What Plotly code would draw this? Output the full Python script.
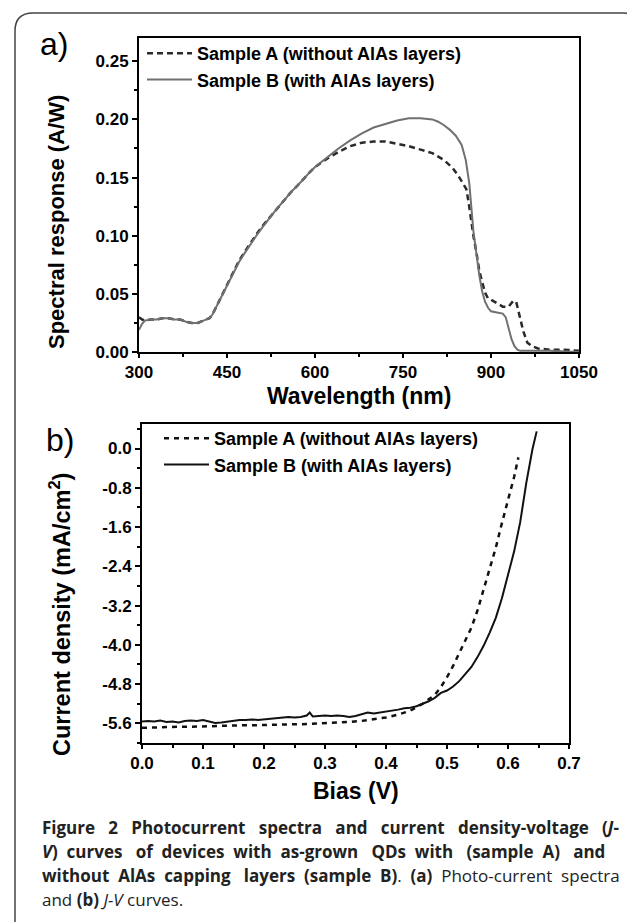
import plotly.graph_objects as go

# ---------------- data ----------------
# Panel a: spectral response (A/W) vs wavelength (nm)
wl_A = [300, 305, 310, 320, 330, 340, 350, 360, 370, 380, 390, 400, 410, 420, 425, 430, 440,
        450, 460, 470, 480, 490, 500, 510, 520, 530, 540, 550, 560, 570, 580, 590, 600,
        620, 640, 660, 680, 700, 720, 740, 760, 780, 800, 820, 835, 845, 852, 858, 862,
        866, 870, 875, 880, 885, 890, 895, 900, 910, 920, 930, 938, 943, 948, 955, 962,
        970, 980, 1000, 1025, 1050]
sr_A = [0.030, 0.028, 0.027, 0.028, 0.028, 0.029, 0.029, 0.028, 0.028, 0.026, 0.025, 0.025,
        0.027, 0.029, 0.032, 0.037, 0.048, 0.058, 0.068, 0.078, 0.086, 0.094, 0.101, 0.108,
        0.114, 0.120, 0.126, 0.132, 0.138, 0.143, 0.149, 0.154, 0.159, 0.166, 0.172, 0.177,
        0.180, 0.181, 0.181, 0.179, 0.177, 0.174, 0.171, 0.165, 0.158, 0.151, 0.145, 0.140,
        0.128, 0.113, 0.100, 0.086, 0.070, 0.060, 0.051, 0.046, 0.045, 0.042, 0.039, 0.039,
        0.044, 0.043, 0.033, 0.018, 0.008, 0.005, 0.003, 0.002, 0.002, 0.001]

wl_B = [300, 305, 310, 320, 330, 340, 350, 360, 370, 380, 390, 400, 410, 420, 425, 430, 440,
        450, 460, 470, 480, 490, 500, 510, 520, 530, 540, 550, 560, 570, 580, 590, 600,
        620, 640, 660, 680, 700, 720, 740, 760, 780, 800, 810, 820, 830, 840, 850, 857,
        863, 870, 875, 880, 885, 890, 895, 900, 910, 920, 925, 930, 935, 940, 945, 950,
        1000, 1050]
sr_B = [0.019, 0.024, 0.027, 0.028, 0.028, 0.029, 0.029, 0.028, 0.028, 0.026, 0.025, 0.025,
        0.027, 0.029, 0.032, 0.037, 0.048, 0.058, 0.068, 0.077, 0.085, 0.093, 0.100, 0.107,
        0.114, 0.120, 0.126, 0.132, 0.138, 0.143, 0.149, 0.154, 0.159, 0.167, 0.175, 0.182,
        0.188, 0.193, 0.196, 0.199, 0.201, 0.201, 0.200, 0.198, 0.195, 0.191, 0.186, 0.178,
        0.165, 0.145, 0.104, 0.085, 0.066, 0.052, 0.043, 0.038, 0.035, 0.034, 0.033, 0.030,
        0.020, 0.011, 0.005, 0.002, 0.001, 0.001, 0.000]

wl_ticks = [300, 450, 600, 750, 900, 1050]
wl_ticklabels = ["300", "450", "600", "750", "900", "1050"]
sr_ticks = [0.00, 0.05, 0.10, 0.15, 0.20, 0.25]
sr_ticklabels = ["0.00", "0.05", "0.10", "0.15", "0.20", "0.25"]

# Panel b: current density (mA/cm2) vs bias (V)
bias_A = [0.00, 0.02, 0.04, 0.06, 0.08, 0.10, 0.12, 0.14, 0.16, 0.18, 0.20, 0.22, 0.24, 0.26,
          0.28, 0.30, 0.32, 0.34, 0.36, 0.38, 0.40, 0.42, 0.44, 0.46, 0.48, 0.49, 0.50, 0.51,
          0.52, 0.53, 0.54, 0.55, 0.56, 0.57, 0.58, 0.59, 0.60, 0.61, 0.617]
jd_A = [-5.69, -5.68, -5.68, -5.67, -5.67, -5.66, -5.66, -5.65, -5.64, -5.64, -5.63, -5.63,
        -5.62, -5.62, -5.61, -5.60, -5.59, -5.57, -5.55, -5.52, -5.48, -5.42, -5.34, -5.20,
        -5.02, -4.86, -4.66, -4.43, -4.18, -3.92, -3.65, -3.30, -2.88, -2.46, -2.02, -1.52,
        -1.04, -0.58, -0.18]

bias_B = [0.00, 0.01, 0.02, 0.03, 0.04, 0.05, 0.06, 0.07, 0.08, 0.09, 0.10, 0.11, 0.12, 0.13,
          0.14, 0.15, 0.16, 0.17, 0.18, 0.19, 0.20, 0.21, 0.22, 0.23, 0.24, 0.25, 0.26, 0.27,
          0.275, 0.28, 0.29, 0.30, 0.31, 0.32, 0.33, 0.34, 0.35, 0.36, 0.37, 0.38, 0.39, 0.40,
          0.41, 0.42, 0.43, 0.44, 0.45, 0.46, 0.47, 0.48, 0.49, 0.50, 0.51, 0.52, 0.53, 0.54,
          0.55, 0.56, 0.57, 0.58, 0.59, 0.60, 0.61, 0.62, 0.63, 0.64, 0.647]
jd_B = [-5.56, -5.55, -5.56, -5.54, -5.57, -5.56, -5.58, -5.55, -5.54, -5.55, -5.53, -5.56,
        -5.59, -5.58, -5.56, -5.54, -5.53, -5.53, -5.52, -5.53, -5.52, -5.51, -5.50, -5.49,
        -5.47, -5.48, -5.47, -5.44, -5.38, -5.46, -5.45, -5.44, -5.45, -5.44, -5.45, -5.47,
        -5.45, -5.42, -5.38, -5.40, -5.38, -5.36, -5.35, -5.32, -5.29, -5.28, -5.25, -5.20,
        -5.15, -5.08, -4.98, -4.93, -4.85, -4.74, -4.60, -4.45, -4.25, -4.02, -3.75, -3.45,
        -3.05, -2.58, -2.10, -1.50, -0.70, -0.02, 0.35]

bias_ticks = [0.0, 0.1, 0.2, 0.3, 0.4, 0.5, 0.6, 0.7]
bias_ticklabels = ["0.0", "0.1", "0.2", "0.3", "0.4", "0.5", "0.6", "0.7"]
jd_ticks = [0.0, -0.8, -1.6, -2.4, -3.2, -4.0, -4.8, -5.6]
jd_ticklabels = ["0.0", "-0.8", "-1.6", "-2.4", "-3.2", "-4.0", "-4.8", "-5.6"]

name_A = "Sample A (without AlAs layers)"
name_B = "Sample B (with AlAs layers)"

# ---------------- layout helpers ----------------
W, H = 635, 922
OFF = 8  # page body margin of the html page
def px(x):
    return (x - OFF) / W
def py(y):
    return 1 - (y - OFF) / H

FONT = "Liberation Sans, Arial, sans-serif"

fig = go.Figure()
fig.add_trace(go.Scatter(x=wl_A, y=sr_A, mode="lines", name=name_A,
                         line=dict(color="#2a2a2a", width=2.5, dash="6px,4px"),
                         xaxis="x", yaxis="y", legend="legend"))
fig.add_trace(go.Scatter(x=wl_B, y=sr_B, mode="lines", name=name_B,
                         line=dict(color="#707070", width=2),
                         xaxis="x", yaxis="y", legend="legend"))
fig.add_trace(go.Scatter(x=bias_A, y=jd_A, mode="lines", name=name_A,
                         line=dict(color="#111111", width=2.5, dash="5px,5px"),
                         xaxis="x2", yaxis="y2", legend="legend2"))
fig.add_trace(go.Scatter(x=bias_B, y=jd_B, mode="lines", name=name_B,
                         line=dict(color="#111111", width=2),
                         xaxis="x2", yaxis="y2", legend="legend2"))

axis_common = dict(showline=True, linecolor="black", linewidth=2, mirror=True,
                   showgrid=False, zeroline=False, ticks="outside",
                   tickwidth=1.5, tickcolor="black", automargin=False,
                   tickfont=dict(family=FONT, size=17, color="black", weight="bold"))

legend_font = dict(family=FONT, size=18, color="black", weight="bold")

fig.update_layout(
    width=W, height=H, autosize=False, margin=dict(l=0, r=0, t=0, b=0, autoexpand=False),
    paper_bgcolor="white", plot_bgcolor="white",
    font=dict(family=FONT, color="black"),
    xaxis=dict(domain=[px(139), px(579)], anchor="y", range=[300, 1050], ticklen=4,
               tickmode="array", tickvals=wl_ticks, ticktext=wl_ticklabels,
               minor=dict(dtick=75, tick0=300, ticks="outside", ticklen=3, tickcolor="black"),
               **axis_common),
    yaxis=dict(domain=[py(352), py(38)], anchor="x", range=[0, 0.27], ticklen=5,
               tickmode="array", tickvals=sr_ticks, ticktext=sr_ticklabels,
               minor=dict(dtick=0.025, tick0=0, ticks="outside", ticklen=3, tickcolor="black"),
               **axis_common),
    xaxis2=dict(domain=[px(142), px(569)], anchor="y2", range=[0, 0.7], ticklen=4,
                tickmode="array", tickvals=bias_ticks, ticktext=bias_ticklabels,
                minor=dict(dtick=0.05, tick0=0, ticks="outside", ticklen=3, tickcolor="black"),
                **axis_common),
    yaxis2=dict(domain=[py(743), py(424)], anchor="x2", range=[-6.0, 0.5], ticklen=5,
                tickmode="array", tickvals=jd_ticks, ticktext=jd_ticklabels,
                minor=dict(dtick=0.4, tick0=0, ticks="outside", ticklen=3, tickcolor="black"),
                **axis_common),
    legend=dict(x=px(142), y=py(35), xanchor="left", yanchor="top",
                bgcolor="rgba(0,0,0,0)", borderwidth=0, itemwidth=45, font=legend_font),
    legend2=dict(x=px(159), y=py(420), xanchor="left", yanchor="top",
                 bgcolor="rgba(0,0,0,0)", borderwidth=0, itemwidth=45, font=legend_font),
)

ann = []
def add_text(text, x, y, size, bold=False, angle=0, xanchor="center", family=FONT, color="black"):
    ann.append(dict(text=text, x=px(x), y=py(y), xref="paper", yref="paper",
                    showarrow=False, xanchor=xanchor, yanchor="middle", textangle=angle,
                    font=dict(family=family, size=size, color=color,
                              weight="bold" if bold else "normal")))

add_text("a)", 54, 44, 32)
add_text("b)", 60, 440, 32)
add_text("Spectral response (A/W)", 56, 222, 22, bold=True, angle=-90)
add_text("Wavelength (nm)", 359, 396, 23, bold=True)
add_text("Current density (mA/cm<sup>2</sup>)", 60, 615, 23.5, bold=True, angle=-90)
add_text("Bias (V)", 356, 791, 23, bold=True)

CAP = "Open Sans, sans-serif"
S3 = "&nbsp;&nbsp;&nbsp;"
S2 = "&nbsp;&nbsp;"
cap_lines = [
    "<b>Figure" + S3 + "2" + S3 + "Photocurrent" + S3 + "spectra" + S3 + "and" + S3 + "current"
    + S3 + "density-voltage" + S3 + "(<i>J</i>-</b>",
    "<b><i>V</i>)" + S2 + "curves" + S3 + "of" + S2 + "devices" + S2 + "with" + S2 + "as-grown"
    + S3 + "QDs" + S2 + "with" + S3 + "(sample" + S2 + "A)" + S3 + "and</b>",
    "<b>without" + S2 + "AlAs" + S2 + "capping" + S3 + "layers" + S2 + "(sample" + S2 + "B)</b>."
    + S2 + "<b>(a)</b>" + S2 + "Photo-current" + S2 + "spectra",
    "and <b>(b)</b> <i>J-V</i> curves.",
]
for i, t in enumerate(cap_lines):
    add_text(t, 40, 827 + 24 * i, 17, xanchor="left", family=CAP, color="#222222")

fig.update_layout(annotations=ann)

# outer rounded frame of the figure box
r = 18
L, T, R = 15, 13, 641
path = (f"M {px(L)},{py(940)} L {px(L)},{py(T + r)} Q {px(L)},{py(T)} {px(L + r)},{py(T)} "
        f"L {px(R - r)},{py(T)} Q {px(R)},{py(T)} {px(R)},{py(T + r)} L {px(R)},{py(940)}")
fig.update_layout(shapes=[dict(type="path", path=path, xref="paper", yref="paper",
                               line=dict(color="#444444", width=1.5))])

fig.write_html("out.html", config={"responsive": False})
